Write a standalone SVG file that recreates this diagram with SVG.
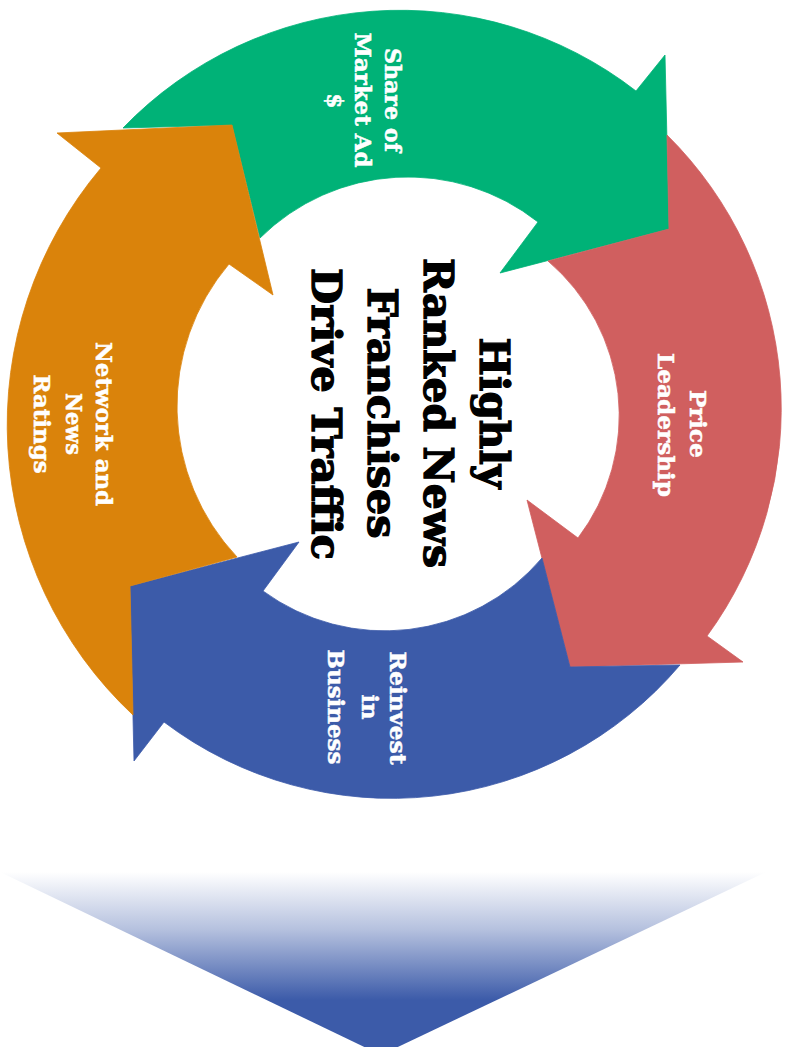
<svg xmlns="http://www.w3.org/2000/svg" width="791" height="1047" viewBox="0 0 791 1047">
  <defs>
    <linearGradient id="fadeBlue" gradientUnits="userSpaceOnUse" x1="0" y1="872" x2="0" y2="1000">
      <stop offset="0" stop-color="#3C5BA9" stop-opacity="0"/>
      <stop offset="0.45" stop-color="#3C5BA9" stop-opacity="0.38"/>
      <stop offset="1" stop-color="#3C5BA9" stop-opacity="1"/>
    </linearGradient>
  </defs>
  <style>
    .seg { stroke-width: 0.8; stroke-linejoin: miter; }
    .green { fill: #00B277; stroke: #00B277; }
    .red { fill: #D05F5F; stroke: #D05F5F; }
    .blue { fill: #3C5BA9; stroke: #3C5BA9; }
    .orange { fill: #DA830B; stroke: #DA830B; }
    .lbl { font-family: "DejaVu Serif", "Liberation Serif", serif; font-weight: bold; font-size: 22px; fill: #FFFFFF; stroke: #FFFFFF; stroke-width: 0.5; text-anchor: middle; }
    .hub { font-family: "DejaVu Serif", "Liberation Serif", serif; font-weight: bold; font-size: 41px; fill: #000000; stroke: #000000; stroke-width: 1.3; text-anchor: middle; }
  </style>
  <rect width="791" height="1047" fill="#FFFFFF"/>

  <!-- cycle segments: ring body plus triangular head, each tail tucked against the previous head -->
  <g id="share-of-market">
    <path class="seg green" d="M 123 128 A 385 385 0 0 1 636 91 L 665 55 L 669 229 L 500 273 L 538 222 A 210 210 0 0 0 260 238 L 232 125 Z"/>
    <text class="lbl" transform="translate(385,100) rotate(90)" textLength="104" lengthAdjust="spacingAndGlyphs">Share of</text>
    <text class="lbl" transform="translate(355,100) rotate(90)" textLength="135" lengthAdjust="spacingAndGlyphs">Market Ad</text>
    <text class="lbl" transform="translate(327,101) rotate(90)">$</text>
  </g>

  <g id="price-leadership">
    <path class="seg red" d="M 667 135 A 385 385 0 0 1 707 636 L 743 662 L 570 667 L 527 500 L 578 538 A 203 203 0 0 0 548 261 L 669 229 Z"/>
    <text class="lbl" transform="translate(690,424) rotate(90)" textLength="68" lengthAdjust="spacingAndGlyphs">Price</text>
    <text class="lbl" transform="translate(658,425) rotate(90)" textLength="144" lengthAdjust="spacingAndGlyphs">Leadership</text>
  </g>

  <g id="reinvest">
    <path class="seg blue" d="M 680 665 A 378 378 0 0 1 164 722 L 134 761 L 130 586 L 299 542 L 263 591 A 206 206 0 0 0 542 558 L 570 667 Z"/>
    <text class="lbl" transform="translate(390,708) rotate(90)" textLength="113" lengthAdjust="spacingAndGlyphs">Reinvest</text>
    <text class="lbl" transform="translate(362,707) rotate(90)" textLength="25" lengthAdjust="spacingAndGlyphs">in</text>
    <text class="lbl" transform="translate(328,707) rotate(90)" textLength="115" lengthAdjust="spacingAndGlyphs">Business</text>
  </g>

  <g id="network-ratings">
    <path class="seg orange" d="M 133 715 A 398 398 0 0 1 101 168 L 57 133 L 232 125 L 273 295 L 229 264 A 220 220 0 0 0 237 557 L 130 586 Z"/>
    <text class="lbl" transform="translate(96,424) rotate(90)" textLength="164" lengthAdjust="spacingAndGlyphs">Network and</text>
    <text class="lbl" transform="translate(66,424) rotate(90)" textLength="62" lengthAdjust="spacingAndGlyphs">News</text>
    <text class="lbl" transform="translate(34,424) rotate(90)" textLength="99" lengthAdjust="spacingAndGlyphs">Ratings</text>
  </g>

  <!-- central statement -->
  <g id="hub">
    <text class="hub" transform="translate(480,413) rotate(90)" textLength="151" lengthAdjust="spacingAndGlyphs">Highly</text>
    <text class="hub" transform="translate(424,413) rotate(90)" textLength="310" lengthAdjust="spacingAndGlyphs">Ranked News</text>
    <text class="hub" transform="translate(368,413) rotate(90)" textLength="251" lengthAdjust="spacingAndGlyphs">Franchises</text>
    <text class="hub" transform="translate(312,414) rotate(90)" textLength="292" lengthAdjust="spacingAndGlyphs">Drive Traffic</text>
  </g>

  <!-- downward funnel arrow -->
  <g id="connectors">
    <polygon points="0,872 766,872 381,1055" fill="url(#fadeBlue)"/>
  </g>
</svg>
